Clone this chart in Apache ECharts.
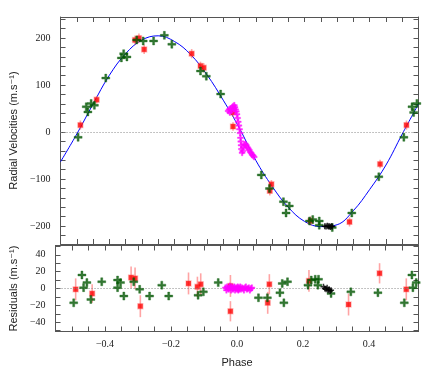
<!DOCTYPE html>
<html><head><meta charset="utf-8">
<script src="https://cdn.jsdelivr.net/npm/echarts@6/dist/echarts.min.js"></script>
<style>html,body{margin:0;padding:0;background:#fff}#c{width:436px;height:385px}</style>
</head><body><div id="c"></div>
<script>
// ---- data ----
const curvePhase = [-0.55,-0.5,-0.45,-0.4,-0.35,-0.3,-0.25,-0.2,-0.15,-0.1,-0.05,0,0.05,0.1,0.15,0.2,0.25,0.3,0.35,0.4,0.45,0.5,0.55];
const curveVel   = [-63,-4,60,121,167,196,205,193,165,122,68,8,-60,-115,-160,-190,-201,-197,-167,-122,-70,-4,60];

const redPhase = [-0.489,-0.439,-0.321,-0.309,-0.293,-0.147,-0.12,-0.11,-0.02,-0.02,0.093,0.098,0.218,0.338,0.432,0.513];
const redVel   = [15,69,196,200,176,167,141,137,12,42,-125,-111,-189,-191,-68,15];
const redRes   = [-1,-6,13,12,-21,6,2,5,-27,3,-17,5,9,-19,18,-1];
const redErr   = [13,11,13,13,13,13,12,13,12,13,13,12,13,13,12,13];

const greenPhase = [-0.496,-0.471,-0.466,-0.456,-0.446,-0.411,-0.363,-0.356,-0.346,-0.316,-0.296,-0.264,-0.231,-0.208,-0.12,-0.102,-0.058,0.067,0.092,0.135,0.143,0.153,0.215,0.225,0.245,0.245,0.285,0.345,0.428,0.505,0.53,0.535,0.545];
const greenVel   = [-11,54,43,61,57,115,158,167,160,196,194,194,206,187,130,119,81,-91,-120,-148,-172,-157,-189,-186,-189,-198,-203,-172,-95,-11,54,42,61];

const greenResPhase = [-0.495,-0.47,-0.465,-0.455,-0.443,-0.41,-0.362,-0.362,-0.353,-0.343,-0.313,-0.295,-0.265,-0.228,-0.207,-0.118,-0.102,-0.057,0.065,0.092,0.13,0.137,0.142,0.153,0.215,0.225,0.237,0.247,0.245,0.285,0.345,0.427,0.507,0.53,0.533,0.543];
const greenRes      = [-17,16,1,7,-13,8,10,1,7,-9,8,-1,-9,4,-9,-8,-4,7,-11,-11,-5,6,-17,8,4,10,11,11,4,-6,-4,-5,-17,16,1,7];

const magPhase = [-0.035,-0.032,-0.03,-0.028,-0.025,-0.022,-0.02,-0.018,-0.016,-0.014,-0.012,-0.01,-0.008,-0.006,-0.004,-0.002,0,0.002,0.003,0.004,0.005,0.006,0.008,0.01,0.012,0.015,0.018,0.021,0.024,0.027,0.03,0.033,0.036,0.039,0.042,0.045];
const magVel   = [45,48,42,50,46,52,55,50,57,53,48,44,38,30,22,14,6,-2,-12,-20,-28,-36,-44,-40,-32,-27,-25,-28,-32,-35,-38,-42,-45,-48,-50,-53];
const magRes   = [1,-2,2,0,-1,3,1,-2,2,0,-1,1,2,-2,0,1,-1,2,0,-2,1,-1,0,2,-1,1,0,-2,1,2,-1,0,1,-2,0,1];

const blackPhase = [0.262,0.266,0.27,0.273,0.276,0.279,0.282,0.285];
const blackVel   = [-200,-201,-199,-201,-200,-202,-200,-201];
const blackRes   = [2,0,-1,1,-2,-1,-3,-2];

const xLabelValues  = [-0.4,-0.2,0,0.2,0.4];
const rvLabelValues = [-200,-100,0,100,200];
const resLabelValues = [-40,-20,0,20,40];

// ---- helpers ----
const zip = (a,b)=>a.map((v,i)=>[v,b[i]]);
const zip3 = (a,b,c)=>a.map((v,i)=>[v,b[i],c[i]]);
const fmtMinus = s => String(s).replace('-', '\u2212');
const rvTicks = []; for (let v=-220; v<=240; v+=20) rvTicks.push(v);
const resTicks = []; for (let v=-50; v<=50; v+=10) resTicks.push(v);

const frame = {show:true, onZero:false, lineStyle:{color:'#555', width:1}};
const serifLbl = {fontFamily:'Liberation Serif, DejaVu Serif, serif', fontSize:10, color:'#222'};
const plusPath = 'path://M3,0H5V3H8V5H5V8H3V5H0V3H3Z';

function xAx(grid, pos, labels){
  return {type:'value', gridIndex:grid, position:pos, min:-0.55, max:0.55, interval:0.05,
    axisLine:frame, splitLine:{show:false},
    axisTick:{show:true, inside:true, length:5, lineStyle:{color:'#555'}},
    axisLabel: labels ? Object.assign({show:true, margin:8, customValues:xLabelValues,
        formatter:v=>fmtMinus(Number(v).toFixed(1))}, serifLbl) : {show:false}};
}
function yAx(grid, pos, min, max, ticks, lblVals, labels){
  return {type:'value', gridIndex:grid, position:pos, min:min, max:max,
    axisLine:frame, splitLine:{show:false},
    axisTick:{show:true, inside:true, length:5, customValues:ticks, lineStyle:{color:'#555'}},
    axisLabel: labels ? Object.assign({show:true, margin:10, customValues:lblVals,
        formatter:v=>fmtMinus(v)}, serifLbl) : {show:false}};
}

function errBars(xi, yi, data){
  return {type:'custom', xAxisIndex:xi, yAxisIndex:yi, data:data, encode:{x:0,y:1}, z:3,
    renderItem:(params, api)=>{
      const x=api.value(0), y=api.value(1), e=api.value(2);
      const p1=api.coord([x,y-e]), p2=api.coord([x,y+e]);
      return {type:'line', shape:{x1:p1[0],y1:p1[1],x2:p2[0],y2:p2[1]},
        style:{stroke:'rgba(255,90,90,0.55)', lineWidth:1.6}};
    }};
}
const zeroLine = {symbol:'none', silent:true, animation:false, label:{show:false},
  lineStyle:{type:[1,2], color:'#888', width:1}, data:[{yAxis:0}]};

const xAxes = [xAx(0,'bottom',false), xAx(0,'top',false), xAx(1,'bottom',true), xAx(1,'top',false)];
xAxes[2].name = 'Phase'; xAxes[2].nameLocation='middle'; xAxes[2].nameGap=26;
xAxes[2].nameTextStyle = {fontFamily:'Liberation Sans, Arial, sans-serif', fontSize:11, color:'#222'};

const yAxes = [yAx(0,'left',-238,245,rvTicks,rvLabelValues,true), yAx(0,'right',-238,245,rvTicks,rvLabelValues,false),
               yAx(1,'left',-51,51,resTicks,resLabelValues,true), yAx(1,'right',-51,51,resTicks,resLabelValues,false)];
const nameStyle = {fontFamily:'Liberation Sans, DejaVu Sans, Arial, sans-serif', fontSize:11, color:'#222'};
yAxes[0].name='Radial Velocities (m.s\u207B\u00B9)'; yAxes[0].nameLocation='middle'; yAxes[0].nameGap=31; yAxes[0].nameTextStyle=nameStyle;
yAxes[2].name='Residuals (m.s\u207B\u00B9)'; yAxes[2].nameLocation='middle'; yAxes[2].nameGap=31; yAxes[2].nameTextStyle=nameStyle;

const greenStyle = {color:'#005500', borderColor:'rgba(0,90,0,0.5)', borderWidth:0.8};
const redStyle = {color:'#ff0000', borderColor:'rgba(255,80,80,0.4)', borderWidth:1.4};
const magStyle = {color:'#ff00ff', borderColor:'rgba(255,0,255,0.5)', borderWidth:0.8};

const chart = echarts.init(document.getElementById('c'), null, {renderer:'canvas'});
chart.setOption({
  animation:false,
  grid:[{left:51, top:17, width:367.5, height:227}, {left:51, top:245.5, width:367.5, height:86}],
  xAxis:xAxes, yAxis:yAxes,
  series:[
    {type:'line', xAxisIndex:0, yAxisIndex:0, data:zip(curvePhase,curveVel), smooth:0.4, showSymbol:false,
      lineStyle:{color:'#0000ff', width:1}, z:2, markLine:zeroLine},
    errBars(0,0,zip3(redPhase,redVel,redErr.map(e=>e*0.75))),
    {type:'scatter', xAxisIndex:0, yAxisIndex:0, data:zip(redPhase,redVel), symbol:'rect', symbolSize:5, itemStyle:redStyle, z:4},
    {type:'scatter', xAxisIndex:0, yAxisIndex:0, data:zip(greenPhase,greenVel), symbol:plusPath, symbolSize:8, itemStyle:greenStyle, z:5},
    {type:'scatter', xAxisIndex:0, yAxisIndex:0, data:zip(magPhase,magVel), symbol:plusPath, symbolSize:6, itemStyle:magStyle, z:6},
    {type:'scatter', xAxisIndex:0, yAxisIndex:0, data:zip(blackPhase,blackVel), symbol:plusPath, symbolSize:6, itemStyle:{color:'#000000'}, z:6},

    {type:'line', xAxisIndex:2, yAxisIndex:2, data:[], showSymbol:false, markLine:zeroLine},
    errBars(2,2,zip3(redPhase,redRes,redErr)),
    {type:'scatter', xAxisIndex:2, yAxisIndex:2, data:zip(redPhase,redRes), symbol:'rect', symbolSize:5, itemStyle:redStyle, z:4},
    {type:'scatter', xAxisIndex:2, yAxisIndex:2, data:zip(greenResPhase,greenRes), symbol:plusPath, symbolSize:8, itemStyle:greenStyle, z:5},
    {type:'scatter', xAxisIndex:2, yAxisIndex:2, data:zip(magPhase,magRes), symbol:plusPath, symbolSize:6, itemStyle:magStyle, z:6},
    {type:'scatter', xAxisIndex:2, yAxisIndex:2, data:zip(blackPhase,blackRes), symbol:plusPath, symbolSize:6, itemStyle:{color:'#000000'}, z:6}
  ]
});
</script></body></html>
